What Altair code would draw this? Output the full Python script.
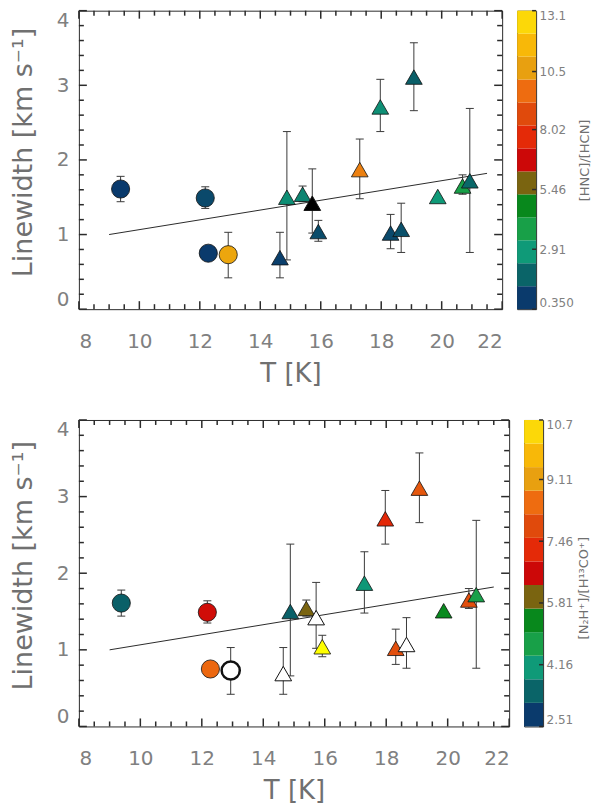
import altair as alt
import pandas as pd

# values; both panels show the same sources
T_K = [9.38, 12.18, 12.28, 12.94, 14.65, 14.88, 15.40, 15.72, 15.92,
       17.29, 17.97, 19.08, 18.31, 18.66, 19.87, 20.69, 20.93]
LINEWIDTH = [1.61, 1.49, 0.75, 0.73, 0.69, 1.50, 1.54, 1.42, 1.04,
             1.87, 2.71, 3.11, 1.02, 1.07, 1.51, 1.65, 1.72]
ERR_LO = [1.44, 1.35, None, 0.42, 0.42, 0.66, 1.44, 1.02, 0.91,
          1.48, 2.38, 2.66, 0.81, 0.76, None, 1.54, 0.76]
ERR_HI = [1.78, 1.64, None, 1.03, 1.03, 2.38, 1.65, 1.88, 1.19,
          2.28, 3.08, 3.57, 1.27, 1.42, None, 1.80, 2.69]
SYMBOL = ["circle"] * 4 + ["triangle"] * 13

# abundance ratios (None = no value: black / open symbol)
HNC_HCN = [0.84, 1.2, 0.84, 10.9, 0.95, 2.6, 2.4, None, 1.25,
           10.05, 2.6, 1.7, 1.2, 1.35, 2.8, 3.78, 1.9]
N2H_H13CO = [3.4, 6.7, 8.4, None, None, 3.4, 5.975, None, 10.7,
             4.05, 7.2, 8.1, 7.95, None, 5.3, 7.95, 4.7]

# linear fit drawn in both panels
FIT_T = [9.0, 21.5]
FIT_W = [1.0, 1.82]

X_TICKS = [8, 10, 12, 14, 16, 18, 20, 22]
X_MINOR = [8.5, 9, 9.5, 10.5, 11, 11.5, 12.5, 13, 13.5, 14.5, 15, 15.5,
           16.5, 17, 17.5, 18.5, 19, 19.5, 20.5, 21, 21.5]
Y_TICKS = [0, 1, 2, 3, 4]
Y_MINOR = [0.2, 0.4, 0.6, 0.8, 1.2, 1.4, 1.6, 1.8, 2.2, 2.4, 2.6, 2.8,
           3.2, 3.4, 3.6, 3.8]

HNC_RANGE = [0.35, 13.1]
HNC_TICKS = [0.350, 2.91, 5.46, 8.02, 10.5, 13.1]
N2H_RANGE = [2.51, 10.7]
N2H_TICKS = [2.51, 4.16, 5.81, 7.46, 9.11, 10.7]

# 13-step colour table of the colour bars
PALETTE = ["#0a3a6c", "#0a6468", "#0f9a78", "#18a048", "#08881c", "#7a6410",
           "#cc0808", "#e42a08", "#e04a0c", "#ee6c10", "#e8a010", "#f8b808",
           "#fcd808"]
TOP_COLOR = "#ffff00"

FONT = "DejaVu Sans"
INK = "#2b2b2b"
CBAR_W = 19


def color_scale(vmin, vmax):
    step = (vmax - vmin) / len(PALETTE)
    stops = [vmin + (i + 0.5) * step for i in range(len(PALETTE))] + [vmax]
    return alt.Scale(type="linear", domain=stops, range=PALETTE + [TOP_COLOR],
                     clamp=True, interpolate="rgb")


def panel(ratio, vrange, miss_fill, miss_circle_width, width, height, title_shift):
    df = pd.DataFrame({"T": T_K, "W": LINEWIDTH, "lo": ERR_LO, "hi": ERR_HI,
                       "sym": SYMBOL, "ratio": ratio})
    fit = pd.DataFrame({"T": FIT_T, "W": FIT_W})

    xs = alt.Scale(domain=[X_TICKS[0], X_TICKS[-1]], nice=False, zero=False)
    ys = alt.Scale(domain=[Y_TICKS[0], Y_TICKS[-1]], nice=False, zero=False)
    # one axis definition, repeated in every layer so the layer keeps a single axis
    ax_x = alt.Axis(orient="bottom", values=X_TICKS, ticks=False, labelPadding=22,
                    labelFontSize=20, domain=False, grid=False,
                    title="T [K]", titleFontSize=26, titlePadding=9)
    ax_y = alt.Axis(orient="left", values=Y_TICKS, ticks=False, labelPadding=10,
                    labelFontSize=20, labelFlush=True, domain=False, grid=False,
                    title="Linewidth [km s⁻¹]", titleFontSize=27, titlePadding=19,
                    titleY=height / 2 - title_shift)

    def X(field):
        return alt.X(field, scale=xs, axis=ax_x)

    def Y(field):
        return alt.Y(field, scale=ys, axis=ax_y)

    base = alt.Chart(df)
    shape = alt.Shape("sym:N", legend=None,
                      scale=alt.Scale(domain=["circle", "triangle"],
                                      range=["circle", "triangle-up"]))
    size = alt.condition("datum.sym == 'circle'", alt.value(330), alt.value(280))

    fit_line = alt.Chart(fit).mark_line(color=INK, strokeWidth=1).encode(
        x=X("T:Q"), y=Y("W:Q"))

    has_err = base.transform_filter("isValid(datum.lo)")
    bars = has_err.mark_rule(color="#3a3a3a", strokeWidth=1).encode(
        x=X("T:Q"), y=Y("lo:Q"), y2="hi:Q")
    caps = has_err.transform_fold(["lo", "hi"], as_=["end", "val"]).mark_tick(
        orient="horizontal", size=8, thickness=1, color="#3a3a3a", opacity=1
    ).encode(x=X("T:Q"), y=Y("val:Q"))

    coloured = base.transform_filter("isValid(datum.ratio)").mark_point(
        filled=True, opacity=1, stroke="#111111", strokeWidth=0.8
    ).encode(
        x=X("T:Q"), y=Y("W:Q"), shape=shape, size=size,
        fill=alt.Fill("ratio:Q", scale=color_scale(*vrange), legend=None),
    )
    missing = base.transform_filter("!isValid(datum.ratio)").mark_point(
        filled=True, opacity=1, fill=miss_fill, stroke="#111111"
    ).encode(
        x=X("T:Q"), y=Y("W:Q"), shape=shape, size=size,
        strokeWidth=alt.condition("datum.sym == 'circle'",
                                  alt.value(miss_circle_width), alt.value(1)),
    )

    # IDL-style ticks pointing into the frame on all four sides
    ticks = []
    for values, length in ((X_TICKS, 8), (X_MINOR, 5)):
        rule = alt.Chart(pd.DataFrame({"T": values})).mark_rule(color=INK, strokeWidth=1.5)
        ticks.append(rule.encode(x=X("T:Q"), y=alt.value(height - length),
                                 y2=alt.value(height)))
        ticks.append(rule.encode(x=X("T:Q"), y=alt.value(0), y2=alt.value(length)))
    for values, length in ((Y_TICKS, 8), (Y_MINOR, 5)):
        rule = alt.Chart(pd.DataFrame({"W": values})).mark_rule(color=INK, strokeWidth=1.5)
        ticks.append(rule.encode(y=Y("W:Q"), x=alt.value(0), x2=alt.value(length)))
        ticks.append(rule.encode(y=Y("W:Q"), x=alt.value(width - length),
                                 x2=alt.value(width)))

    return alt.layer(fit_line, bars, caps, coloured, missing, *ticks).properties(
        width=width, height=height)


def colorbar(vrange, ticks, title, height, title_y=None):
    vmin, vmax = vrange
    n = len(PALETTE)
    step = (vmax - vmin) / n
    bins = pd.DataFrame({
        "lo": [vmin + i * step for i in range(n)],
        "hi": [vmin + (i + 1) * step for i in range(n)],
        "mid": [vmin + (i + 0.5) * step for i in range(n)],
    })
    ys = alt.Scale(domain=list(vrange), nice=False, zero=False)
    axis_kw = dict(orient="right", values=ticks, format=".3r", ticks=False,
                   labelPadding=3, labelFontSize=12, labelFlush=True, domain=False,
                   grid=False, title=title, titleAngle=270, titleBaseline="top",
                   titleFontSize=13, titlePadding=5)
    if title_y is not None:
        axis_kw["titleY"] = title_y
    ax = alt.Axis(**axis_kw)
    rects = alt.Chart(bins).mark_rect().encode(
        x=alt.value(0), x2=alt.value(CBAR_W),
        y=alt.Y("lo:Q", scale=ys, axis=ax),
        y2="hi:Q",
        fill=alt.Fill("mid:Q", scale=color_scale(vmin, vmax), legend=None),
    )
    marks = alt.Chart(pd.DataFrame({"lo": ticks})).mark_rule(
        color=INK, strokeWidth=1.5
    ).encode(
        y=alt.Y("lo:Q", scale=ys, axis=ax),
        x=alt.value(CBAR_W - 4), x2=alt.value(CBAR_W),
    )
    return alt.layer(rects, marks).properties(width=CBAR_W, height=height)


top = alt.hconcat(
    panel(HNC_HCN, HNC_RANGE, "#000000", 1, 424, 299, 8),
    colorbar(HNC_RANGE, HNC_TICKS, "[HNC]/[HCN]", 299),
    spacing=12,
).resolve_scale(fill="independent")

bottom = alt.hconcat(
    panel(N2H_H13CO, N2H_RANGE, "#ffffff", 2.5, 431, 307, 8),
    colorbar(N2H_RANGE, N2H_TICKS, "[N₂H⁺]/[H¹³CO⁺]", 307, 168),
    spacing=12,
).resolve_scale(fill="independent")

chart = alt.vconcat(top, bottom, spacing=31).resolve_scale(
    fill="independent"
).properties(
    padding={"left": 0, "top": 0, "right": 0, "bottom": 0}
).configure_view(
    stroke=INK, strokeWidth=1
).configure_axis(
    labelFont=FONT, titleFont=FONT, labelColor="#808080", titleColor="#707070",
    titleFontWeight="normal"
)

chart.save("out.html", embed_options={"renderer": "svg", "actions": False})
